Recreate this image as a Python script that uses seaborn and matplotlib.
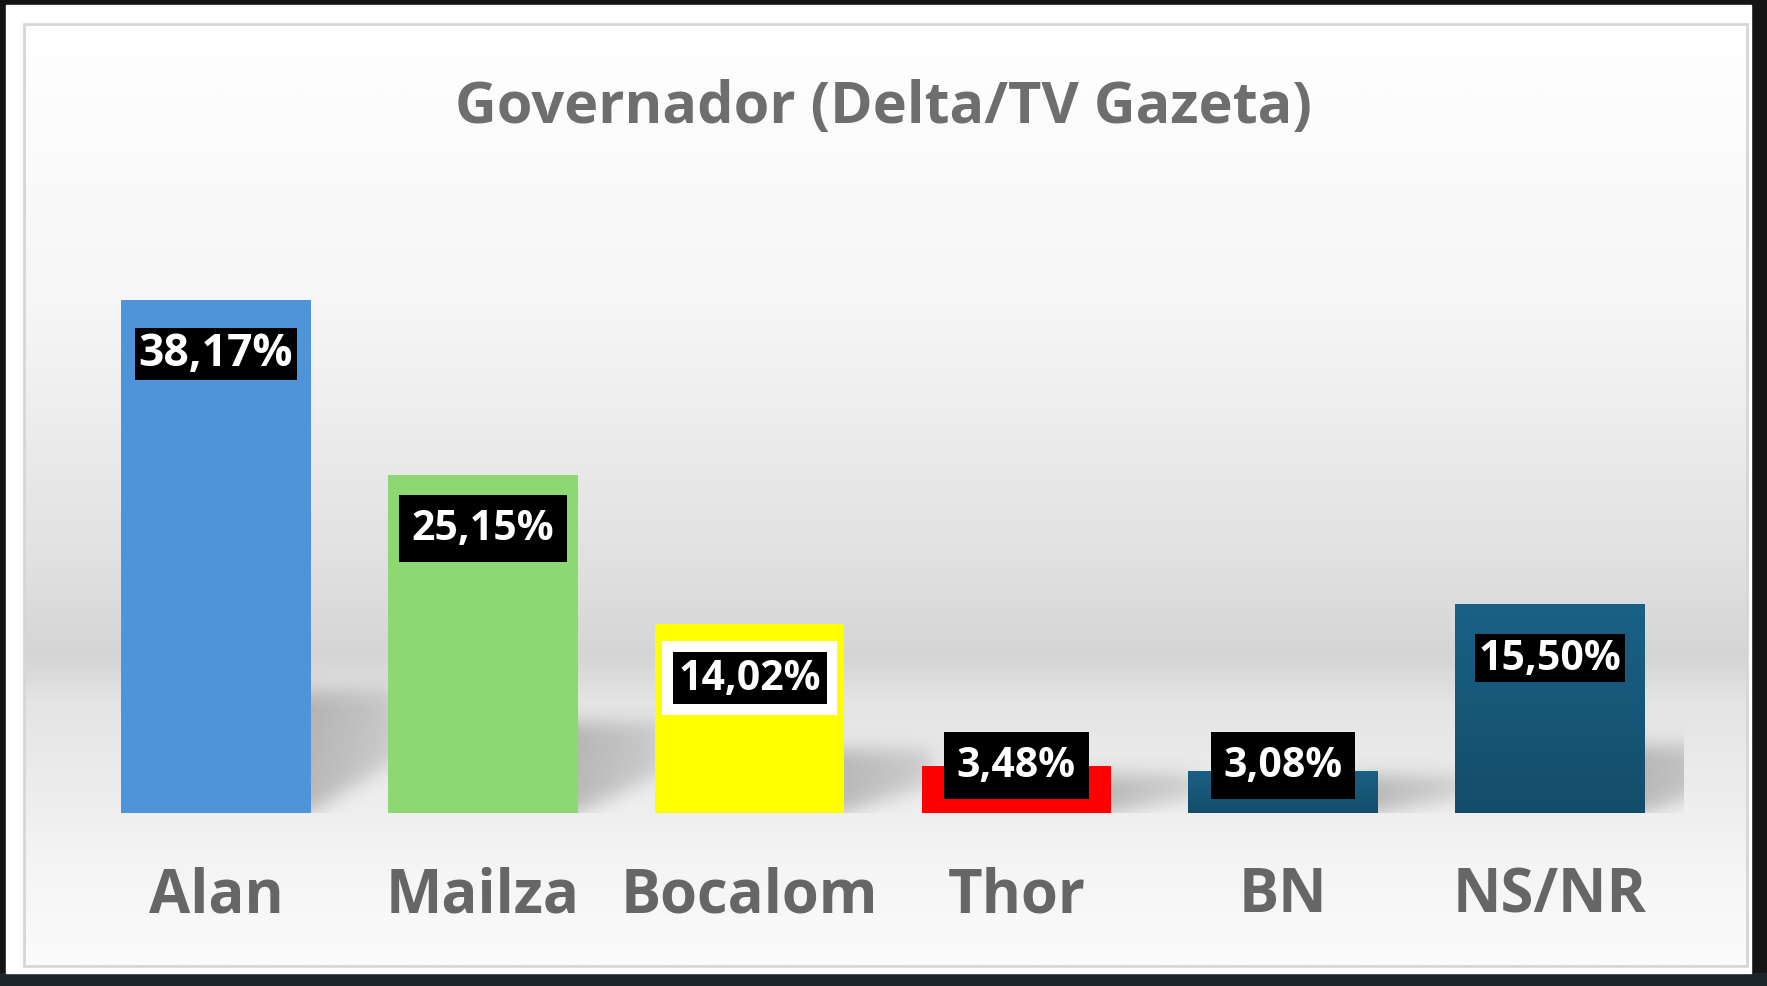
import numpy as np
import seaborn as sns
import matplotlib.pyplot as plt
from matplotlib.colors import LinearSegmentedColormap
from matplotlib.patches import Rectangle

# data
candidates = ["Alan", "Mailza", "Bocalom", "Thor", "BN", "NS/NR"]
percent = [38.17, 25.15, 14.02, 3.48, 3.08, 15.50]
labels = ["38,17%", "25,15%", "14,02%", "3,48%", "3,08%", "15,50%"]
bar_colors = ["#4f94d9", "#8ed873", "#ffff00", "#ff0000", "#175b7c", "#175e80"]

# label box look (tight or padded black box, Bocalom gets a white frame too)
label_pad = {"Alan": 0.08, "Mailza": 0.31, "Bocalom": 0.14, "Thor": 0.31, "BN": 0.31, "NS/NR": 0.08}
label_size = {"Alan": 32, "Mailza": 29.5, "Bocalom": 29.5, "Thor": 29.5, "BN": 29.5, "NS/NR": 29.5}

W, H = 1767, 987
sns.set_theme(style="white")
plt.rcParams['font.family'] = ['Open Sans', 'DejaVu Sans']

fig = plt.figure(figsize=(W / 100, H / 100), dpi=100, facecolor="#141414")

# frame + gradient background (pixel coordinates)
bg = fig.add_axes([0, 0, 1, 1], zorder=-10)
bg.add_patch(Rectangle((0, 974), W, 13, color="#1b262b", zorder=0))
bg.add_patch(Rectangle((6, 6), 1745, 968, color="white", zorder=0))
grad_cmap = LinearSegmentedColormap.from_list(
    "floor",
    [(0.0, "#ffffff"), (0.3, "#f6f6f6"), (0.56, "#e2e2e2"), (0.675, "#d5d5d5"),
     (0.72, "#e4e4e4"), (0.83, "#eeeeee"), (0.9, "#f5f5f5"), (1.0, "#fbfbfb")])
grad = np.linspace(0, 1, 400).reshape(-1, 1)
bg.imshow(grad, cmap=grad_cmap, aspect="auto", extent=(24, 1747, 967, 25), vmin=0, vmax=1, zorder=1)
bg.add_patch(Rectangle((24, 25), 1723, 942, fill=False, edgecolor="#d6d6d6", lw=2, zorder=2))
bg.set_xlim(0, W)
bg.set_ylim(H, 0)
bg.axis("off")

fig.text(0.5, 1 - 108 / H, "Governador (Delta/TV Gazeta)", ha="center", va="center",
         fontsize=41.5, fontweight="bold", color="#6e6e6e")

# bar axes
ax = fig.add_axes([82.6 / W, 173.5 / H, 1600.8 / W, 604 / H])
ax.patch.set_alpha(0)
sns.barplot(x=candidates, y=percent, hue=candidates, palette=bar_colors, legend=False,
            saturation=1, width=0.71, linewidth=0, ax=ax, zorder=3)
sns.despine(ax=ax, left=True, bottom=True)
ax.set_yticks([])
ax.set_xlabel("")
ax.set_ylabel("")
ax.tick_params(axis="x", length=0, pad=38, labelsize=43, labelcolor="#666666")
for t in ax.get_xticklabels():
    t.set_fontweight("bold")

px_x, px_y = 1600.8 / 6, 604 / 45   # pixels per data unit


def smooth(a, sigma, axis):
    k = np.arange(-3 * int(sigma), 3 * int(sigma) + 1)
    ker = np.exp(-0.5 * (k / sigma) ** 2)
    ker /= ker.sum()
    return np.apply_along_axis(lambda r: np.convolve(r, ker, mode="same"), axis, a)


# soft cast shadows to the right of each bar
for p, v in zip(ax.patches, percent):
    xr = p.get_x() + p.get_width()
    sh = min(v, 0.18 * v + 2.2)
    dx = 0.33
    x0, x1 = xr - 0.15, xr + 0.6
    y0, y1 = 0, sh + 3
    xs = np.linspace(x0, x1, int((x1 - x0) * px_x))
    ys = np.linspace(y0, y1, int((y1 - y0) * px_y))
    X, Y = np.meshgrid(xs, ys)
    inside = (X >= xr - 0.1) & (X <= xr + dx) & (Y <= sh) & (Y >= (X - xr) / dx * 0.45 * sh)
    m = smooth(smooth(inside.astype(float), 9, 0), 9, 1)
    m *= np.clip(1 - 0.45 * (X - xr) / dx, 0.3, 1)
    rgba = np.zeros(X.shape + (4,))
    rgba[..., :3] = 0.3
    rgba[..., 3] = m * 0.32
    ax.imshow(rgba, extent=(x0, x1, y0, y1), origin="lower", aspect="auto", zorder=2,
              interpolation="bilinear")

# darker gradient on the dark-blue bars
blue_grad = LinearSegmentedColormap.from_list("bl", ["#144d6a", "#1a6185"])
for p, c in zip(ax.patches, bar_colors):
    if c.startswith("#175"):
        im = ax.imshow(np.linspace(0, 1, 100).reshape(-1, 1), cmap=blue_grad, aspect="auto",
                       origin="lower", extent=(p.get_x(), p.get_x() + p.get_width(), 0, p.get_height()),
                       zorder=3.5)
        im.set_clip_path(p)
ax.set_xlim(-0.5, 5.5)
ax.set_ylim(0, 45)

# value labels
for i, (v, lab) in enumerate(zip(percent, labels)):
    name = candidates[i]
    y = v - 4 if v > 8 else 3.5
    if name == "Bocalom":
        ax.text(i, y, lab, ha="center", va="center", fontsize=label_size[name], fontweight="bold",
                color="none", zorder=4,
                bbox=dict(boxstyle="square,pad=0.4", fc="white", ec="none"))
    ax.text(i, y, lab, ha="center", va="center", fontsize=label_size[name], fontweight="bold",
            color="white", zorder=5,
            bbox=dict(boxstyle=f"square,pad={label_pad[name]}", fc="black", ec="none"))

fig.savefig("out.png", dpi=100, facecolor=fig.get_facecolor())
